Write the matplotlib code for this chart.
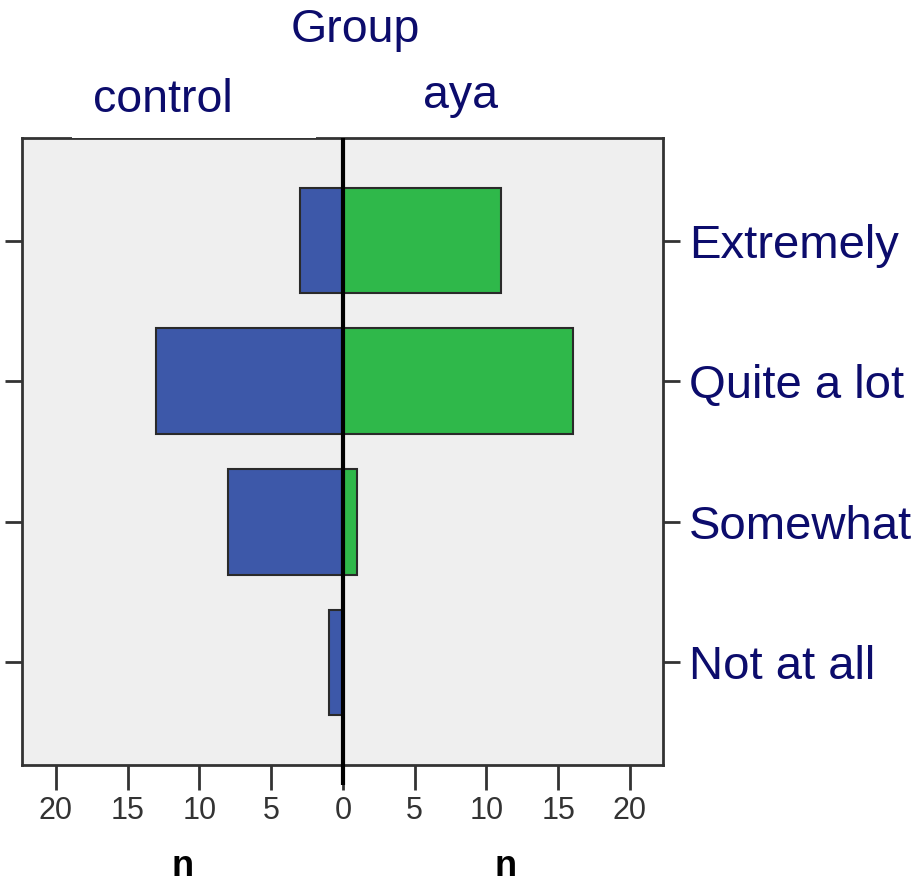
import matplotlib
matplotlib.use('Agg')
import matplotlib.pyplot as plt
from matplotlib.patches import Rectangle

# categories listed bottom to top
categories = ['Not at all', 'Somewhat', 'Quite a lot', 'Extremely']
control = [1, 8, 13, 3]
aya = [0, 1, 16, 11]

tick_vals = [-20, -15, -10, -5, 0, 5, 10, 15, 20]
tick_labels = ['20', '15', '10', '5', '0', '5', '10', '15', '20']

navy = '#0c0c6c'
blue = '#3d58a9'
green = '#2fb84a'

plt.rcParams['font.family'] = ['Liberation Sans', 'DejaVu Sans']

fig = plt.figure(figsize=(9.21, 8.83), dpi=100)
ax = fig.add_axes([22 / 921, 118 / 883, 641 / 921, 627 / 883])
ax.set_facecolor('#efefef')

ypos = list(range(len(categories)))
ax.barh(ypos, [-v for v in control], height=0.75, color=blue,
        edgecolor='#2a2a2a', linewidth=1.5, zorder=2)
ax.barh(ypos, aya, height=0.75, color=green,
        edgecolor='#2a2a2a', linewidth=1.5, zorder=2)

ax.set_xlim(-22.35, 22.3)
ax.set_ylim(-0.73, 3.73)

# center line, runs through the bottom tick row
ax.plot([0, 0], [-0.73, 3.73], color='black', lw=3, zorder=4,
        solid_capstyle='butt')
ax.plot([0, 0], [-0.73, -0.87], color='black', lw=3, zorder=4,
        clip_on=False, solid_capstyle='butt')

for s in ax.spines.values():
    s.set_linewidth(2)
    s.set_color('#333333')

ax.set_xticks(tick_vals)
ax.set_xticklabels(tick_labels, fontsize=22, color='#333333')
ax.tick_params(axis='x', length=18, width=2, color='#333333', pad=4)

ax.set_yticks(ypos)
ax.set_yticklabels(categories, fontsize=34, color=navy)
ax.tick_params(axis='y', left=True, right=True, labelleft=False,
               labelright=True, length=12, width=2, color='#333333', pad=7)

# white strip behind "control" that breaks the top border
fig.patches.append(Rectangle((72 / 921, (883 - 138) / 883), 244 / 921, 8 / 883,
                             transform=fig.transFigure, facecolor='white',
                             edgecolor='none', zorder=10))

fig.text(355 / 921, 1 - 30 / 883, 'Group', fontsize=33.5, color=navy,
         ha='center', va='center')
fig.text(163 / 921, 1 - 100 / 883, 'control', fontsize=33.5, color=navy,
         ha='center', va='center')
fig.text(460 / 921, 1 - 96 / 883, 'aya', fontsize=33.5, color=navy,
         ha='center', va='center')
fig.text(183 / 921, 1 - 866 / 883, 'n', fontsize=26, fontweight='bold',
         color='black', ha='center', va='center')
fig.text(506 / 921, 1 - 866 / 883, 'n', fontsize=26, fontweight='bold',
         color='black', ha='center', va='center')

fig.savefig('out.png', dpi=100, facecolor='white')
